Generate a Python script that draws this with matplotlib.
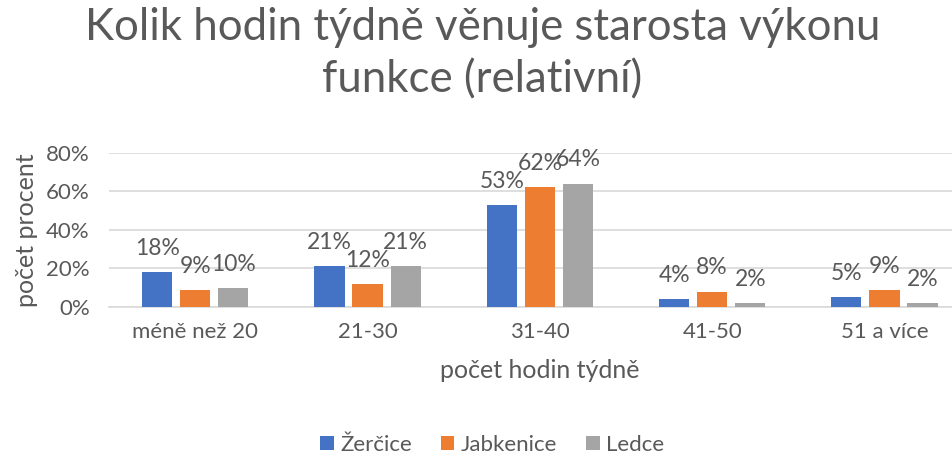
import numpy as np
import matplotlib.pyplot as plt

categories = ['méně než 20', '21-30', '31-40', '41-50', '51 a více']
series = ['Žerčice', 'Jabkenice', 'Ledce']
zercice = [18, 21, 53, 4, 5]
jabkenice = [9, 12, 62, 8, 9]
ledce = [10, 21, 64, 2, 2]
colors = ['#4472C4', '#ED7D31', '#A5A5A5']

plt.rcParams['font.family'] = ['Lato', 'DejaVu Sans']
text_col = '#595959'

fig = plt.figure(figsize=(9.53, 4.55), dpi=100)
ax = fig.add_axes([0.1145, 0.3253, 0.904, 0.339])

x = np.arange(len(categories))
w = 0.175
step = 0.221
for i, (vals, name) in enumerate(zip([zercice, jabkenice, ledce], series)):
    pos = x + (i - 1) * step
    ax.bar(pos, vals, width=w, color=colors[i], label=name, zorder=3)
    for p, v in zip(pos, vals):
        ax.annotate(f'{v}%', (p, v), xytext=(0, 17), textcoords='offset points',
                    ha='center', va='center', fontsize=16.5, color=text_col)

ax.set_xlim(-0.5, 4.5)
ax.set_ylim(0, 80)
ax.set_yticks([0, 20, 40, 60, 80])
ax.set_yticklabels([f'{t}%' for t in [0, 20, 40, 60, 80]])
ax.set_xticks(x)
ax.set_xticklabels(categories)
ax.tick_params(axis='both', length=0, labelsize=16, colors=text_col)
ax.tick_params(axis='x', pad=11)
ax.tick_params(axis='y', pad=14)
ax.grid(axis='y', color='#D9D9D9', linewidth=1.2, zorder=0)
for s in ['top', 'right', 'left']:
    ax.spines[s].set_visible(False)
ax.spines['bottom'].set_color('#D9D9D9')
ax.spines['bottom'].set_linewidth(1.2)

ax.set_ylabel('počet procent', fontsize=18, color=text_col, labelpad=6)
ax.set_xlabel('počet hodin týdně', fontsize=18, color=text_col, labelpad=12)

fig.text(0.506, 0.985, 'Kolik hodin týdně věnuje starosta výkonu\nfunkce (relativní)',
         ha='center', va='top', fontsize=31.5, color=text_col, linespacing=1.35)

ax.legend(loc='center', bbox_to_anchor=(0.445, -0.895), ncol=3, frameon=False,
          fontsize=16, handlelength=0.6, handleheight=0.6, handletextpad=0.3,
          columnspacing=1.3, labelcolor=text_col)

fig.savefig('out.png', dpi=100)
